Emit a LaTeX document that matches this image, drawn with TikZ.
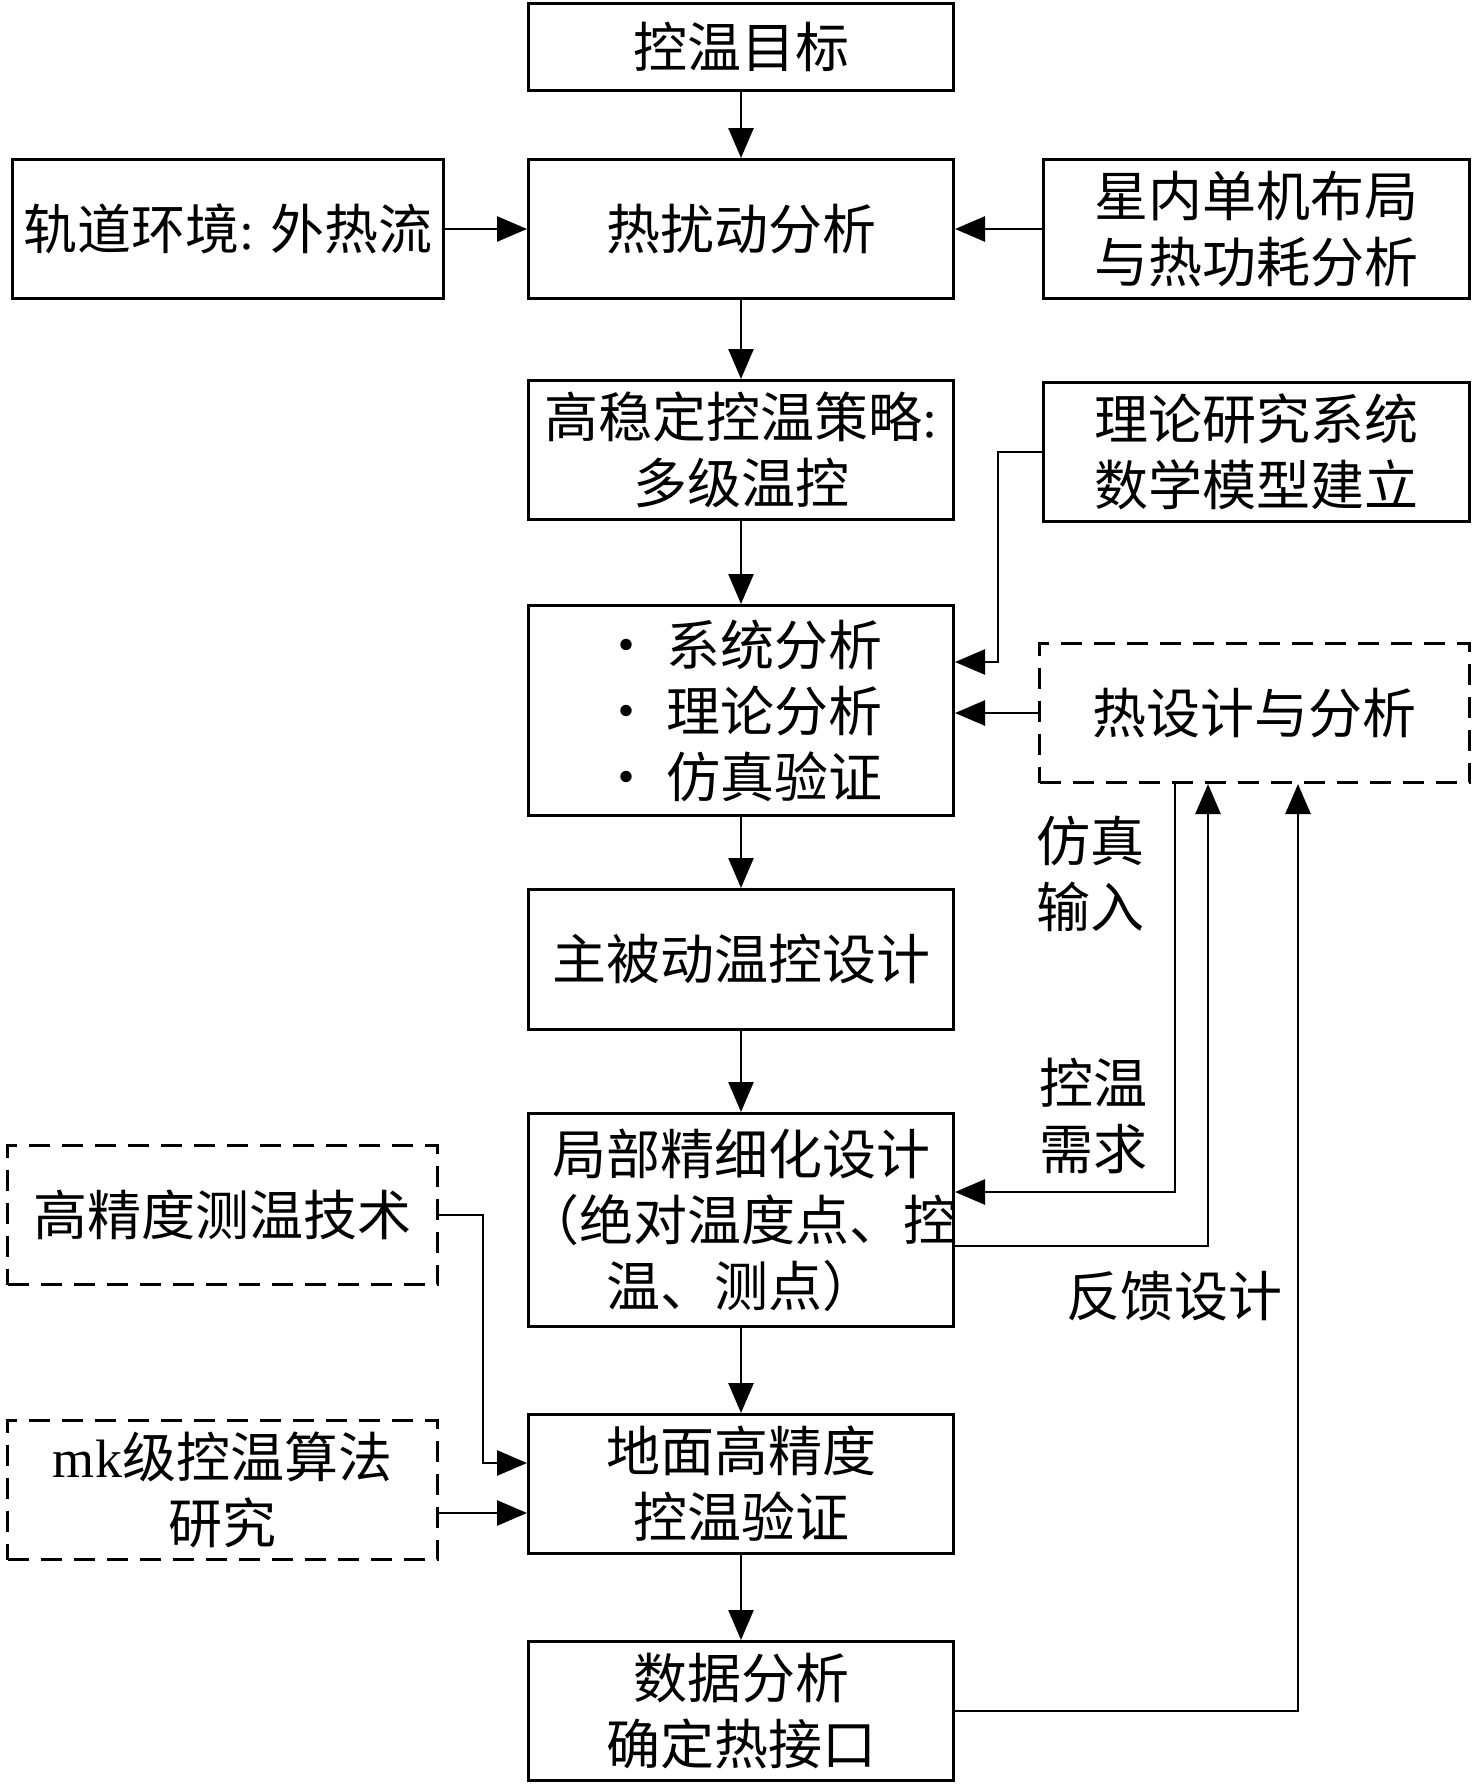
\documentclass[tikz,border=0pt]{standalone}
\usepackage{fontspec}
\setmainfont{Noto Sans CJK SC}
\newfontfamily\lat{Liberation Serif}
\usetikzlibrary{arrows.meta}
\begin{document}
\begin{tikzpicture}[x=1pt,y=-1pt,
  every node/.style={font=\fontsize{54}{66}\selectfont},
  box/.style={draw, line width=3pt, minimum width=425pt, minimum height=139pt, align=center, inner sep=0pt},
  dbox/.style={box, dash pattern=on 21pt off 12pt},
  lbl/.style={align=center, inner sep=0pt},
  conn/.style={line width=2.6pt, -{Triangle[length=30pt,width=25pt]}}
]
\useasboundingbox (0,0) rectangle (1476,1785);
% main column
\node[box, minimum height=87pt] (A) at (741,47) {控温目标};
\node[box] (B) at (741,229) {热扰动分析};
\node[box] (C) at (741,450) {高稳定控温策略{\lat :}\\多级温控};
\node[box, minimum height=210pt] (D) at (741,710.5) {• 系统分析\\• 理论分析\\• 仿真验证};
\node[box, minimum height=140pt] (E) at (741,959.5) {主被动温控设计};
\node[box, minimum height=213pt] (F) at (741,1220) {局部精细化设计\\\makebox[400pt][c]{（绝对温度点、控}\\温、测点）};
\node[box] (G) at (741,1484) {地面高精度\\控温验证};
\node[box] (H) at (741,1711) {数据分析\\确定热接口};
% left
\node[box, minimum width=431pt] (L1) at (228,229) {轨道环境{\lat :} 外热流};
\node[dbox, minimum width=430pt] (L2) at (222.5,1215) {高精度测温技术};
\node[dbox, minimum width=430pt] (L3) at (222.5,1490) {{\lat mk}级控温算法\\研究};
% right
\node[box, minimum width=426pt] (R1) at (1256.5,229) {星内单机布局\\与热功耗分析};
\node[box, minimum width=426pt] (R2) at (1256.5,452) {理论研究系统\\数学模型建立};
\node[dbox, minimum width=430pt] (R3) at (1254.5,713) {热设计与分析};
% labels
\node[lbl] (t1) at (1090,874) {仿真\\输入};
\node[lbl] (t2) at (1093,1116) {控温\\需求};
\node[lbl] (t3) at (1174,1296) {反馈设计};
% connectors
\draw[conn] (A) -- (B);
\draw[conn] (B) -- (C);
\draw[conn] (C) -- (D);
\draw[conn] (D) -- (E);
\draw[conn] (E) -- (F);
\draw[conn] (F) -- (G);
\draw[conn] (G) -- (H);
\draw[conn] (L1) -- (B);
\draw[conn] (R1) -- (B);
\draw[conn] (R2.west) -- ++(-44,0) |- ([yshift=48.5pt]D.east);
\draw[conn] (R3.west) -- (R3.west -| D.east);
\draw[conn] ([xshift=-79.5pt]R3.south) |- ([yshift=28pt]F.east);
\draw[conn] ([yshift=-26pt]F.east) -| ([xshift=-46.5pt]R3.south);
\draw[conn] (H.east) -| ([xshift=43.5pt]R3.south);
\draw[conn] (L2.east) -- ++(44,0) |- ([yshift=21pt]G.west);
\draw[conn] ([yshift=-23pt]L3.east) -- ([yshift=-23pt]L3.east -| G.west);
\end{tikzpicture}
\end{document}
